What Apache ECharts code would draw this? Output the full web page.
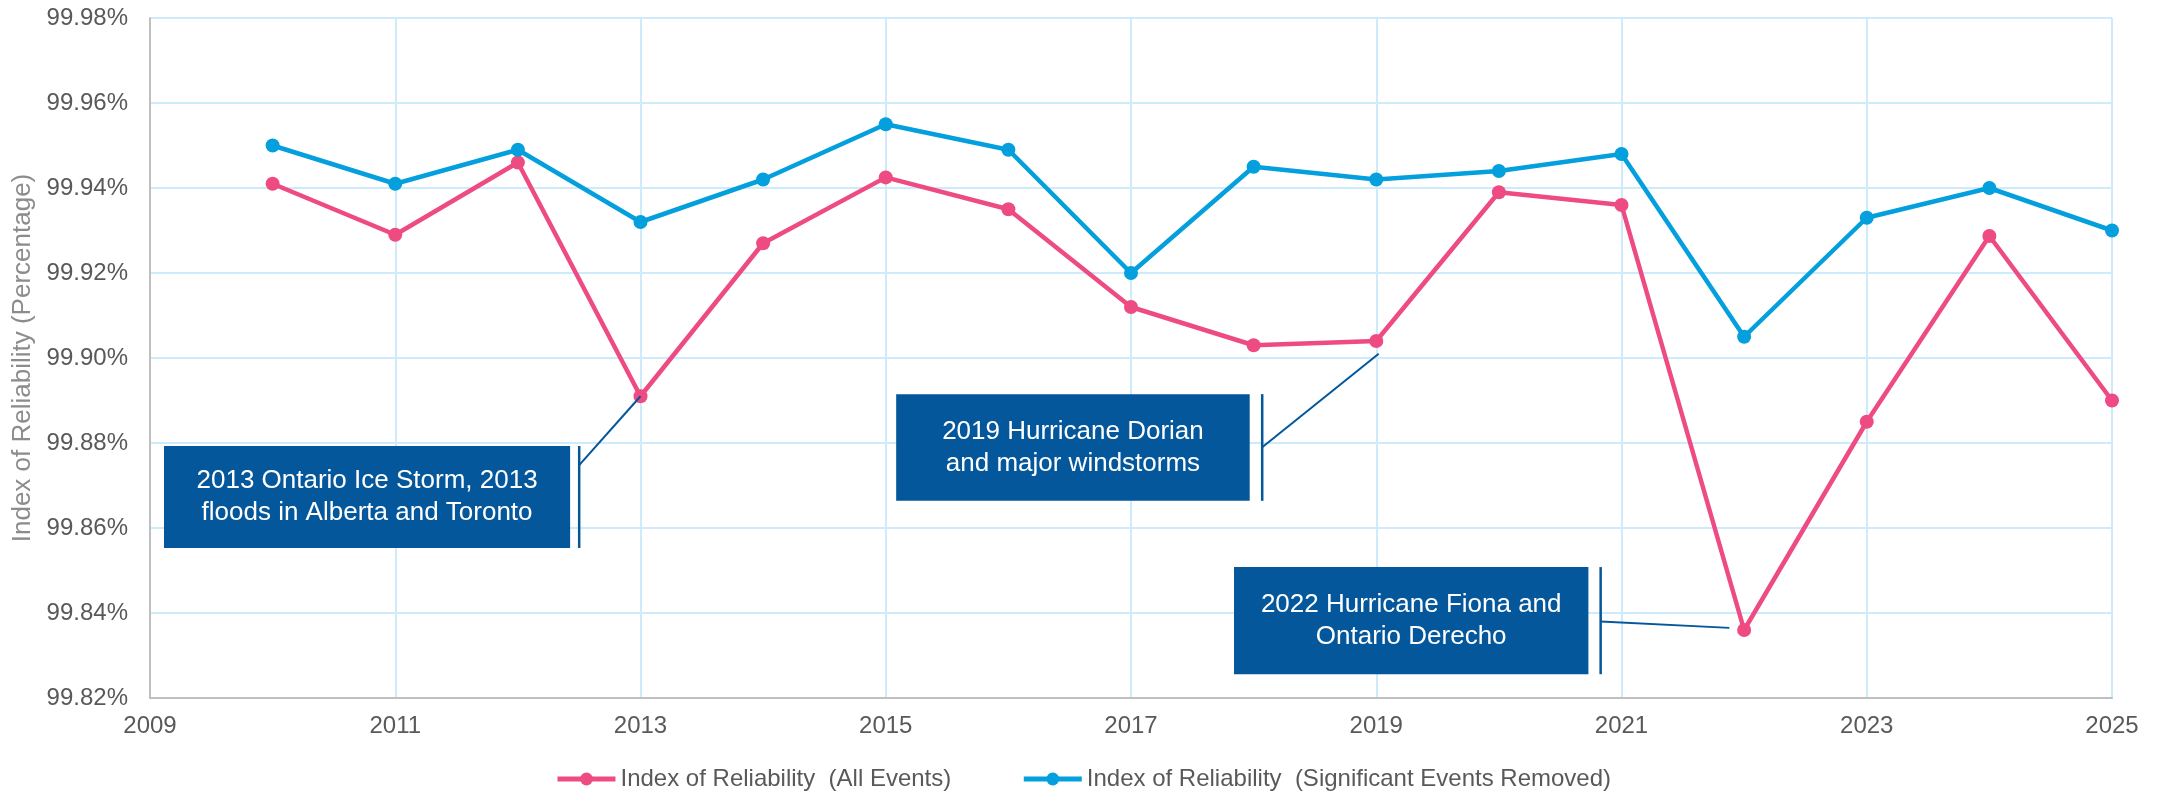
<!DOCTYPE html>
<html>
<head>
<meta charset="utf-8">
<script src="https://cdn.jsdelivr.net/npm/echarts@6/dist/echarts.min.js"></script>
<style>
html,body{margin:0;padding:0;background:#fff;}
#chart{width:2166px;height:791px;}
</style>
</head>
<body>
<div id="chart"></div>
<script>
// ---- data ----
const years = [2010,2011,2012,2013,2014,2015,2016,2017,2018,2019,2020,2021,2022,2023,2024,2025];
const allEvents = [99.941,99.929,99.946,99.891,99.927,99.9425,99.935,99.912,99.903,99.904,99.939,99.936,99.836,99.885,99.9287,99.890];
const sigRemoved = [99.950,99.941,99.949,99.932,99.942,99.955,99.949,99.920,99.945,99.942,99.944,99.948,99.905,99.933,99.940,99.930];
const seriesNames = ['Index of Reliability  (All Events)','Index of Reliability  (Significant Events Removed)'];
const yAxisTitle = 'Index of Reliability (Percentage)';
// annotation texts and their anchors in data space
const annotationTexts = [
  '2013 Ontario Ice Storm, 2013\nfloods in Alberta and Toronto',
  '2019 Hurricane Dorian\nand major windstorms',
  '2022 Hurricane Fiona and\nOntario Derecho'
];
// [boxX0, boxX1, boxYTop, boxYBottom, barX, fromY, toX, toY]
const annotationAnchors = [
  [2009.114, 2012.426, 99.8793, 99.8553, 2012.50, 99.8748, 2013.00, 99.891],
  [2015.085, 2017.968, 99.8915, 99.8664, 2018.07, 99.8790, 2019.02, 99.901],
  [2017.840, 2020.730, 99.8508, 99.8256, 2020.83, 99.8380, 2021.88, 99.8365]
];

const FONT = '"Liberation Sans", Arial, sans-serif';
const PINK = '#EE4B82';
const BLUE = '#049FDD';
const BOX = '#03579A';

const chart = echarts.init(document.getElementById('chart'), null, {renderer:'canvas'});

const annData = annotationAnchors.map((a,i)=>a.concat([i]));

chart.setOption({
  animation:false,
  backgroundColor:'#ffffff',
  grid:{left:150,right:54,top:18,bottom:93,containLabel:false},
  legend:{
    data:seriesNames,
    top:762,
    left:'center',
    itemWidth:58,
    itemHeight:16,
    itemGap:70,
    lineStyle:{width:5},
    textStyle:{fontFamily:FONT,fontSize:24,color:'#595959'}
  },
  xAxis:{
    type:'value',min:2009,max:2025,interval:2,
    axisLine:{show:true,lineStyle:{color:'#BFBFBF',width:2}},
    axisTick:{show:false},
    axisLabel:{fontFamily:FONT,fontSize:24,color:'#595959',margin:16,formatter:v=>String(v)},
    splitLine:{show:true,lineStyle:{color:'#CDEBFA',width:2}}
  },
  yAxis:{
    type:'value',min:99.82,max:99.98,interval:0.02,
    name:yAxisTitle,nameLocation:'middle',nameGap:112,
    nameTextStyle:{fontFamily:FONT,fontSize:26,color:'#8C8C8C'},
    axisLine:{show:true,lineStyle:{color:'#BFBFBF',width:2}},
    axisTick:{show:false},
    axisLabel:{fontFamily:FONT,fontSize:24,color:'#595959',margin:22,formatter:v=>v.toFixed(2)+'%'},
    splitLine:{show:true,lineStyle:{color:'#CDEBFA',width:2}}
  },
  series:[
    {
      name:seriesNames[0],type:'line',
      data:years.map((y,i)=>[y,allEvents[i]]),
      symbol:'circle',symbolSize:14,
      lineStyle:{color:PINK,width:4.5},
      itemStyle:{color:PINK},
      z:3
    },
    {
      name:seriesNames[1],type:'line',
      data:years.map((y,i)=>[y,sigRemoved[i]]),
      symbol:'circle',symbolSize:14,
      lineStyle:{color:BLUE,width:4.5},
      itemStyle:{color:BLUE},
      z:3
    },
    {
      type:'custom',
      name:'annotations',
      data:annData,
      z:5,
      silent:true,
      renderItem:function(params,api){
        const p0 = api.coord([api.value(0),api.value(2)]);
        const p1 = api.coord([api.value(1),api.value(3)]);
        const barTop = api.coord([api.value(4),api.value(2)]);
        const barBot = api.coord([api.value(4),api.value(3)]);
        const from = api.coord([api.value(4),api.value(5)]);
        const to = api.coord([api.value(6),api.value(7)]);
        const idx = api.value(8);
        return {
          type:'group',
          children:[
            {type:'rect',shape:{x:p0[0],y:p0[1],width:p1[0]-p0[0],height:p1[1]-p0[1]},style:{fill:BOX}},
            {type:'text',style:{
              x:(p0[0]+p1[0])/2,y:(p0[1]+p1[1])/2,
              text:annotationTexts[idx],
              fill:'#ffffff',font:'26px '+FONT,
              align:'center',verticalAlign:'middle',lineHeight:32
            }},
            {type:'line',shape:{x1:barTop[0],y1:barTop[1],x2:barBot[0],y2:barBot[1]},style:{stroke:BOX,lineWidth:2.5}},
            {type:'line',shape:{x1:from[0],y1:from[1],x2:to[0],y2:to[1]},style:{stroke:BOX,lineWidth:2}}
          ]
        };
      }
    }
  ]
});
</script>
</body>
</html>
